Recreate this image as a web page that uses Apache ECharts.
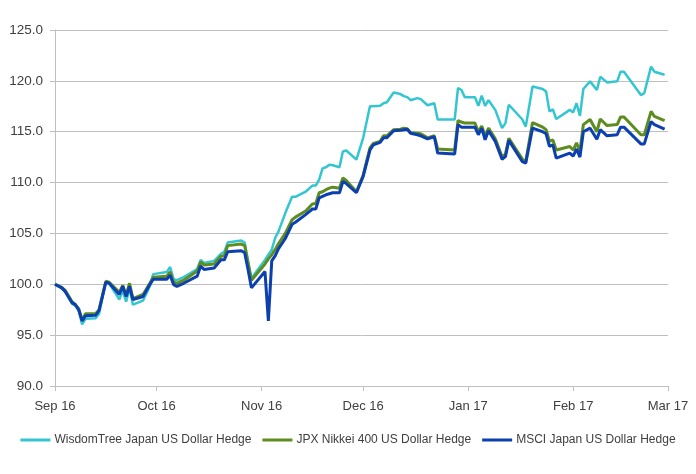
<!DOCTYPE html>
<html>
<head>
<meta charset="utf-8">
<script src="https://cdn.jsdelivr.net/npm/echarts@6/dist/echarts.min.js"></script>
<style>
  html, body { margin: 0; padding: 0; background: #fff; }
  #main { width: 696px; height: 474px; }
</style>
</head>
<body>
<div id="main"></div>
<script>
// 日期（读图所得的折点）
var dates = [
  '2016-09-01', '2016-09-03', '2016-09-04', '2016-09-06', '2016-09-07', '2016-09-08', '2016-09-09', '2016-09-10',
  '2016-09-13', '2016-09-14', '2016-09-16', '2016-09-17', '2016-09-20', '2016-09-21', '2016-09-22', '2016-09-23',
  '2016-09-24', '2016-09-27', '2016-09-29', '2016-09-30', '2016-10-04', '2016-10-05', '2016-10-06', '2016-10-07',
  '2016-10-09', '2016-10-13', '2016-10-14', '2016-10-15', '2016-10-18', '2016-10-20', '2016-10-21', '2016-10-22',
  '2016-10-26', '2016-10-27', '2016-10-28', '2016-10-29', '2016-11-02', '2016-11-03', '2016-11-04', '2016-11-05',
  '2016-11-06', '2016-11-08', '2016-11-10', '2016-11-11', '2016-11-14', '2016-11-16', '2016-11-17', '2016-11-18',
  '2016-11-19', '2016-11-20', '2016-11-21', '2016-11-22', '2016-11-24', '2016-11-25', '2016-11-26', '2016-11-29',
  '2016-12-01', '2016-12-03', '2016-12-04', '2016-12-06', '2016-12-07', '2016-12-08', '2016-12-10', '2016-12-12',
  '2016-12-13', '2016-12-14', '2016-12-15', '2016-12-17', '2016-12-18', '2016-12-20', '2016-12-22', '2016-12-23',
  '2016-12-28', '2016-12-29', '2016-12-30', '2016-12-31', '2017-01-03', '2017-01-04', '2017-01-05', '2017-01-06',
  '2017-01-07', '2017-01-09', '2017-01-11', '2017-01-12', '2017-01-13', '2017-01-17', '2017-01-18', '2017-01-20',
  '2017-01-23', '2017-01-24', '2017-01-25', '2017-01-26', '2017-01-27', '2017-01-31', '2017-02-01', '2017-02-02',
  '2017-02-03', '2017-02-04', '2017-02-06', '2017-02-08', '2017-02-09', '2017-02-11', '2017-02-14', '2017-02-15',
  '2017-02-16', '2017-02-21', '2017-02-22', '2017-02-24', '2017-02-25', '2017-02-28'
];

// WisdomTree Japan US Dollar Hedge
var wisdomTree = [
  100.0, 99.6, 99.3, 98.1, 97.9, 97.4, 96.05, 96.6,
  96.65, 97.1, 100.2, 100.1, 98.5, 99.4, 98.3, 99.6,
  98.0, 98.4, 99.8, 101.0, 101.2, 101.7, 100.5, 100.4,
  100.7, 101.5, 102.4, 102.1, 102.3, 103.0, 103.2, 104.1,
  104.3, 104.1, 102.3, 100.6, 102.4, 102.9, 103.4, 104.55,
  105.2, 107.0, 108.6, 108.6, 109.1, 109.7, 109.7, 110.3,
  111.4, 111.5, 111.75, 111.7, 111.5, 113.05, 113.15, 112.25,
  114.4, 117.5, 117.5, 117.55, 117.8, 117.9, 118.85, 118.7,
  118.5, 118.4, 118.1, 118.3, 118.2, 117.6, 117.8, 116.2,
  116.2, 119.3, 119.1, 118.4, 118.4, 117.55, 118.55, 117.55,
  118.1, 117.15, 115.35, 115.85, 117.65, 116.2, 115.5, 119.45,
  119.2, 118.95, 117.0, 117.2, 116.25, 117.15, 116.9, 117.8,
  116.55, 119.2, 119.95, 119.1, 120.4, 119.85, 119.95, 120.9,
  120.9, 118.6, 118.8, 121.4, 120.9, 120.6
];

// JPX Nikkei 400 US Dollar Hedge
var jpxNikkei = [
  100.0, 99.7, 99.4, 98.3, 98.0, 97.6, 96.5, 97.1,
  97.1, 97.5, 100.3, 100.2, 99.2, 99.9, 98.9, 100.1,
  98.6, 99.0, 100.1, 100.7, 100.8, 101.2, 100.2, 100.1,
  100.4, 101.3, 102.2, 101.9, 102.0, 102.75, 102.8, 103.8,
  103.95, 103.8, 102.1, 100.4, 102.0, 102.5, 102.9, 103.4,
  104.0, 105.0, 106.35, 106.6, 107.2, 107.9, 107.95, 109.0,
  109.1, 109.3, 109.45, 109.55, 109.45, 110.45, 110.2, 109.1,
  110.75, 113.4, 113.85, 114.05, 114.6, 114.6, 115.2, 115.25,
  115.35, 115.3, 114.9, 114.85, 114.8, 114.4, 114.6, 113.3,
  113.2, 116.1, 115.95, 115.85, 115.85, 115.0, 115.55, 114.6,
  115.35, 114.3, 112.55, 112.8, 114.35, 112.3, 112.1, 115.9,
  115.45, 115.2, 114.05, 114.2, 113.2, 113.55, 113.2, 113.9,
  113.05, 115.7, 116.2, 115.0, 116.25, 115.6, 115.7, 116.45,
  116.45, 114.7, 114.7, 117.0, 116.5, 116.1
];

// MSCI Japan US Dollar Hedge
var msciJapan = [
  100.0, 99.65, 99.3, 98.2, 98.0, 97.5, 96.4, 96.9,
  96.95, 97.4, 100.2, 100.1, 99.0, 99.8, 98.8, 99.8,
  98.5, 98.8, 99.97, 100.5, 100.5, 100.9, 99.97, 99.8,
  100.1, 100.8, 101.8, 101.45, 101.6, 102.4, 102.4, 103.2,
  103.3, 103.1, 101.45, 99.65, 101.25, 96.4, 102.3, 102.8,
  103.5, 104.5, 105.9, 106.1, 106.85, 107.4, 107.4, 108.5,
  108.65, 108.8, 108.9, 109.0, 109.0, 110.1, 109.9, 109.0,
  110.6, 113.2, 113.7, 113.95, 114.4, 114.4, 115.1, 115.15,
  115.2, 115.25, 114.85, 114.7, 114.6, 114.3, 114.5, 112.9,
  112.8, 115.7, 115.45, 115.45, 115.45, 114.7, 115.35, 114.2,
  115.1, 114.05, 112.3, 112.55, 114.15, 112.05, 111.9, 115.35,
  115.0, 114.8, 113.55, 113.7, 112.4, 112.9, 112.6, 113.3,
  112.5, 115.0, 115.35, 114.25, 115.2, 114.6, 114.7, 115.45,
  115.45, 113.8, 113.8, 116.0, 115.7, 115.25
];

var seriesNames = ['WisdomTree Japan US Dollar Hedge', 'JPX Nikkei 400 US Dollar Hedge', 'MSCI Japan US Dollar Hedge'];
var monthNames = ['Jan', 'Feb', 'Mar', 'Apr', 'May', 'Jun', 'Jul', 'Aug', 'Sep', 'Oct', 'Nov', 'Dec'];

function toPairs(values) {
  return dates.map(function (d, i) { return [d, values[i]]; });
}

var myChart = echarts.init(document.getElementById('main'));
var axisColor = '#bfbfbf';
var textColor = '#404040';
var fontFamily = '"Liberation Sans", "Noto Sans", sans-serif';

var option = {
  animation: false,
  backgroundColor: '#fff',
  color: ['#33c6d1', '#5e8c1f', '#0c3fb0'],
  grid: {
    left: 55,
    right: 28,
    top: 30,
    bottom: 88
  },
  legend: {
    bottom: 23,
    left: 'center',
    icon: 'rect',
    itemWidth: 30,
    itemHeight: 3,
    itemGap: 11,
    textStyle: {
      color: textColor,
      fontSize: 12,
      fontFamily: fontFamily,
      padding: [0, 0, 0, -1]
    },
    data: seriesNames
  },
  xAxis: {
    type: 'time',
    min: '2016-09-01',
    max: '2017-03-01',
    splitNumber: 6,
    axisLine: { lineStyle: { color: axisColor, width: 1 } },
    axisTick: { show: true, length: 5, lineStyle: { color: axisColor } },
    splitLine: { show: false },
    axisLabel: {
      color: textColor,
      fontSize: 13,
      fontFamily: fontFamily,
      margin: 14,
      hideOverlap: false,
      formatter: function (val) {
        var d = new Date(val);
        return monthNames[d.getMonth()] + ' ' + String(d.getFullYear()).slice(2);
      }
    }
  },
  yAxis: {
    type: 'value',
    min: 90,
    max: 125,
    interval: 5,
    axisLine: { show: true, lineStyle: { color: axisColor, width: 1 } },
    axisTick: { show: true, length: 5, lineStyle: { color: axisColor } },
    splitLine: { show: true, lineStyle: { color: axisColor, width: 1 } },
    axisLabel: {
      color: textColor,
      fontSize: 13.5,
      fontFamily: fontFamily,
      margin: 12,
      formatter: function (v) { return v.toFixed(1); }
    }
  },
  series: [{
    name: seriesNames[0],
    type: 'line',
    data: toPairs(wisdomTree),
    showSymbol: false,
    lineStyle: { width: 2.5 }
  }, {
    name: seriesNames[1],
    type: 'line',
    data: toPairs(jpxNikkei),
    showSymbol: false,
    lineStyle: { width: 3 }
  }, {
    name: seriesNames[2],
    type: 'line',
    data: toPairs(msciJapan),
    showSymbol: false,
    lineStyle: { width: 3 }
  }]
};

myChart.setOption(option);
</script>
</body>
</html>
